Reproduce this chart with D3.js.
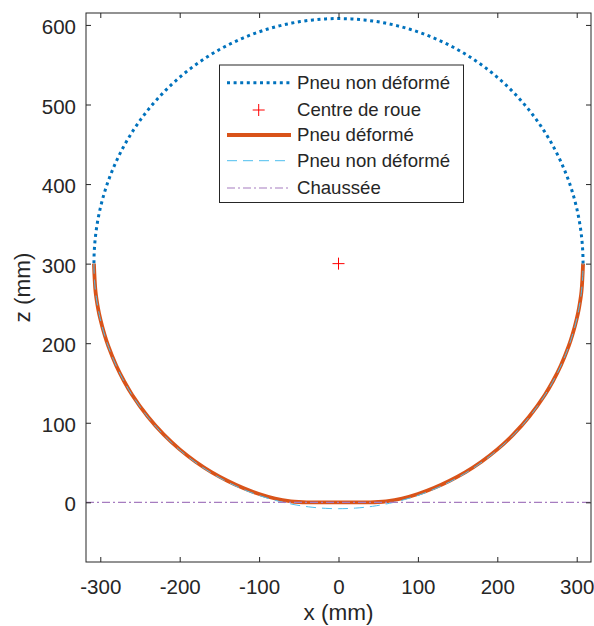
<!DOCTYPE html>
<html><head><meta charset="utf-8">
<script src="https://cdn.jsdelivr.net/npm/d3@7"></script>
<style>body{margin:0;background:#fff}svg{display:block}text{font-family:"Liberation Sans",Arial,Helvetica,sans-serif;fill:#262626}</style>
</head><body>
<script>
// ---- data ----
const wheelCentre = [0, 300];        // centre de roue (x, z) in mm
const tyreRadius = 308;              // rayon du pneu non déformé (mm)
const deformedX = [-308,-306,-303,-300,-295,-290,-280,-270,-260,-240,-220,-200,-180,-160,-140,-120,-100,-80,-60,-50,-40,-20,0,20,40,50,60,80,100,120,140,160,180,200,220,240,260,270,280,290,295,300,303,306,308];
const deformedZ = [300,265,244.8,230.5,211.8,196.6,172,152.2,135.3,107.5,85,66.5,51,38,27.2,18,10.5,4.8,1.3,0.4,0,0,0,0,0,0.4,1.3,4.8,10.5,18,27.2,38,51,66.5,85,107.5,135.3,152.2,172,196.6,211.8,230.5,244.8,265,300];
const roadZ = 0;
const xTicks = [-300,-200,-100,0,100,200,300];
const zTicks = [0,100,200,300,400,500,600];
const xDomain = [-318, 318];
const zDomain = [-75, 615];
const legendLabels = ["Pneu non déformé","Centre de roue","Pneu déformé","Pneu non déformé","Chaussée"];

const W = 594, H = 626;
const L = 86, R = 591, T = 13, B = 562;
const svg = d3.select("body").append("svg").attr("width", W).attr("height", H);
const x = d3.scaleLinear().domain(xDomain).range([L, R]);
const y = d3.scaleLinear().domain(zDomain).range([B, T]);

const circlePts = (a0, a1) => d3.range(0, 181).map(i => {
  const a = a0 + (a1 - a0) * i / 180;
  return [wheelCentre[0] + tyreRadius * Math.cos(a), wheelCentre[1] + tyreRadius * Math.sin(a)];
});
const line = d3.line().x(d => x(d[0])).y(d => y(d[1]));
const smoothLine = d3.line().x(d => x(d[0])).y(d => y(d[1])).curve(d3.curveCatmullRom.alpha(0.5));

svg.append("defs").append("clipPath").attr("id","c").append("rect")
  .attr("x", L).attr("y", T).attr("width", R-L).attr("height", B-T);
const g = svg.append("g").attr("clip-path","url(#c)");

const styles = {
  upper: {stroke:"#0072BD", w:3, dash:"3,3.6"},
  deformed: {stroke:"#D95319", w:3.8, dash:null},
  lower: {stroke:"#4DBEEE", w:1, dash:"10,6"},
  road: {stroke:"#A67CC0", w:1.2, dash:"8,3,2,3"}
};
function styleLine(sel, s){
  sel.attr("fill","none").attr("stroke", s.stroke).attr("stroke-width", s.w);
  if (s.dash) sel.attr("stroke-dasharray", s.dash);
  return sel;
}

styleLine(g.append("path").attr("d", line(circlePts(0, Math.PI))), styles.upper);
const cx = x(wheelCentre[0]), cy = y(wheelCentre[1]);
g.append("path").attr("d", `M${cx-6},${cy}H${cx+6}M${cx},${cy-6}V${cy+6}`).attr("stroke","#FF0000").attr("stroke-width",1);
styleLine(g.append("path").attr("d", smoothLine(deformedX.map((v,i)=>[v, deformedZ[i]]))).attr("stroke-linejoin","round"), styles.deformed);
styleLine(g.append("path").attr("d", line(circlePts(Math.PI, 2*Math.PI))), styles.lower);
styleLine(g.append("path").attr("d", line([[xDomain[0], roadZ],[xDomain[1], roadZ]])), styles.road);

// axes
const axCol = "#262626";
const FS = 20.5;
const fmt = d => String(d);
const xb = svg.append("g").attr("transform",`translate(0,${B})`).call(d3.axisBottom(x).tickValues(xTicks).tickSize(-5).tickPadding(17).tickFormat(fmt));
const xt = svg.append("g").attr("transform",`translate(0,${T})`).call(d3.axisTop(x).tickValues(xTicks).tickSize(-5).tickFormat(""));
const yl = svg.append("g").attr("transform",`translate(${L},0)`).call(d3.axisLeft(y).tickValues(zTicks).tickSize(-5).tickPadding(10).tickFormat(fmt));
const yr = svg.append("g").attr("transform",`translate(${R},0)`).call(d3.axisRight(y).tickValues(zTicks).tickSize(-5).tickFormat(""));
[xb,xt,yl,yr].forEach(a => {
  a.select(".domain").remove();
  a.selectAll(".tick line").attr("stroke", axCol).attr("stroke-width",1);
  a.selectAll("text").attr("font-size",FS).attr("fill",axCol).style("font-family","'Liberation Sans',Arial,sans-serif");
});
yl.selectAll("text").attr("dy","0.42em");
svg.append("rect").attr("x",L).attr("y",T).attr("width",R-L).attr("height",B-T).attr("fill","none").attr("stroke",axCol).attr("stroke-width",1);

svg.append("text").attr("x",(L+R)/2).attr("y",620).attr("text-anchor","middle").attr("font-size",22.5).text("x (mm)");
svg.append("text").attr("transform",`translate(30,${(T+B)/2}) rotate(-90)`).attr("text-anchor","middle").attr("font-size",22.5).text("z (mm)");

// legend
const lg = svg.append("g");
lg.append("rect").attr("x",219.5).attr("y",65).attr("width",244).attr("height",137.5).attr("fill","#fff").attr("stroke",axCol).attr("stroke-width",1);
const rowsY = [82.7,110,135,160.7,188];
const keys = ["upper","marker","deformed","lower","road"];
keys.forEach((k,i) => {
  const yy = rowsY[i];
  if (k === "marker") {
    lg.append("path").attr("d",`M${258.7-6},${yy}H${258.7+6}M${258.7},${yy-6}V${yy+6}`).attr("stroke","#FF0000").attr("stroke-width",1);
  } else {
    styleLine(lg.append("path").attr("d",`M227,${yy}H291`), styles[k]);
  }
  lg.append("text").attr("x",297).attr("y",yy+6).attr("font-size",18.6).text(legendLabels[i]);
});
</script>
</body></html>
